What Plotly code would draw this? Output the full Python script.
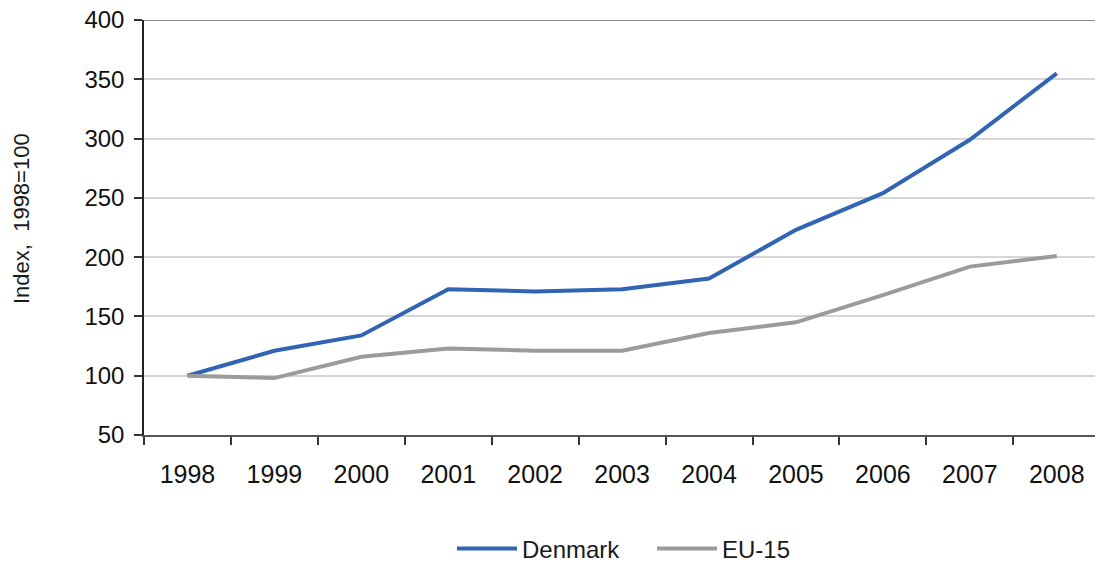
import plotly.graph_objects as go

years = ["1998", "1999", "2000", "2001", "2002", "2003", "2004", "2005", "2006", "2007", "2008"]
denmark = [100, 121, 134, 173, 171, 173, 182, 223, 254, 299, 355]
eu15 = [100, 98, 116, 123, 121, 121, 136, 145, 168, 192, 201]

# the body margin is removed by a post script, so the figure sits at (0, 0)
W, H = 1095, 566
L, R, T = 144, 0, 20
ph = 415
B = H - T - ph
pw = W - L - R


def px_x(vx):
    return (vx - L) / pw


def px_y(vy):
    return (T + ph - vy) / ph


fig = go.Figure()
fig.add_trace(go.Scatter(x=years, y=denmark, name="Denmark", mode="lines",
                         line=dict(color="#3165B4", width=4)))
fig.add_trace(go.Scatter(x=years, y=eu15, name="EU-15", mode="lines",
                         line=dict(color="#9B9B9B", width=4)))

# darker top border line at 400
fig.add_shape(type="line", xref="paper", yref="y", x0=0, x1=1, y0=400, y1=400,
              line=dict(color="#8C8C8C", width=2), layer="below")

fig.update_layout(
    width=W, height=H,
    margin=dict(l=L, r=R, t=T, b=B, pad=0, autoexpand=False),
    paper_bgcolor="white", plot_bgcolor="white",
    font=dict(family="Liberation Sans, Arial, sans-serif", color="#1a1a1a"),
    showlegend=True,
    legend=dict(orientation="h", x=px_x(652), xanchor="center",
                y=px_y(549), yanchor="middle",
                font=dict(size=24, color="#1a1a1a"), itemwidth=60,
                entrywidth=125, entrywidthmode="pixels",
                bgcolor="rgba(0,0,0,0)", traceorder="normal"),
    annotations=[dict(text="Index,  1998=100", xref="paper", yref="paper",
                      x=px_x(21), y=px_y(219), xanchor="center", yanchor="middle",
                      textangle=-90, showarrow=False,
                      font=dict(size=22, color="#1a1a1a"))],
)

fig.update_xaxes(
    type="category", range=[-0.5, 10.44], automargin=False,
    tickson="boundaries", ticks="outside", ticklen=8, tickwidth=1.5, tickcolor="#333333",
    showline=True, linecolor="#555555", linewidth=2,
    showgrid=False, tickfont=dict(size=25, color="#111111"),
    ticklabelstandoff=16, ticklabeloverflow="allow",
)
fig.update_yaxes(
    range=[50, 400], dtick=50, tick0=50, automargin=False,
    ticks="outside", ticklen=8, tickwidth=1.5, tickcolor="#333333",
    showline=True, linecolor="#222222", linewidth=1.5,
    showgrid=True, gridcolor="#D6D6D6", gridwidth=1.5,
    zeroline=False, tickfont=dict(size=24, color="#111111"),
    ticklabelstandoff=5, ticklabeloverflow="allow",
)

fig.write_html("out.html",
               config={"displayModeBar": False},
               post_script="document.body.style.margin='0';document.body.style.overflow='hidden';")
